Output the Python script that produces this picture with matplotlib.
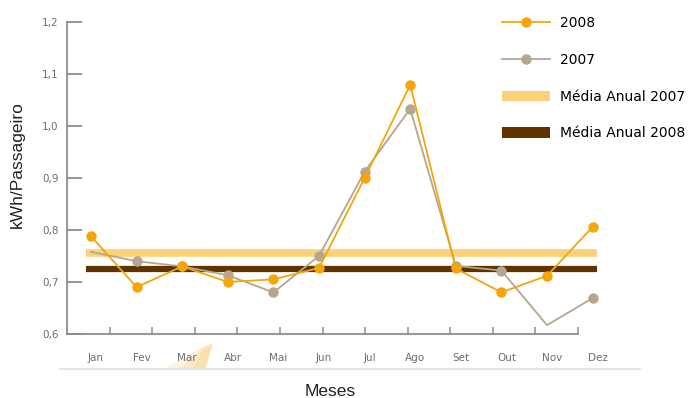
import matplotlib
matplotlib.use("Agg")
import matplotlib.pyplot as plt
import matplotlib.transforms as mtransforms
from matplotlib.lines import Line2D
from matplotlib.patches import Patch, Polygon
import numpy as np

# --- data -------------------------------------------------------------
months = ["Jan", "Fev", "Mar", "Abr", "Mai", "Jun",
          "Jul", "Ago", "Set", "Out", "Nov", "Dez"]
kwh_2008 = [0.788, 0.690, 0.730, 0.700, 0.705, 0.727,
            0.900, 1.079, 0.726, 0.680, 0.712, 0.806]
kwh_2007 = [0.758, 0.740, 0.730, 0.713, 0.680, 0.750,
            0.912, 1.033, 0.731, 0.722, 0.617, 0.669]
media_2007 = 0.755
media_2008 = 0.725
y_ticks = [0.6, 0.7, 0.8, 0.9, 1.0, 1.1, 1.2]
y_tick_labels = ["0,6", "0,7", "0,8", "0,9", "1,0", "1,1", "1,2"]

# --- style ------------------------------------------------------------
C_2008 = "#F5A50A"
C_2007 = "#B5A690"
C_MED07 = "#FAD27A"
C_MED08 = "#5E3300"
C_AXIS = "#8E8E8E"
C_TICK = "#6E6E6E"

W, H = 693, 398
fig = plt.figure(figsize=(W / 100, H / 100), dpi=100)

# axes placed in pixel units
ax_left, ax_right, ax_top, ax_bottom = 67, 612, 22, 334
ax = fig.add_axes([ax_left / W, 1 - ax_bottom / H,
                   (ax_right - ax_left) / W, (ax_bottom - ax_top) / H])

x = np.arange(len(months))
step_px = 45.6           # pixel distance between month points
first_px = 91            # pixel of first month point
x_lo = (ax_left - first_px) / step_px
x_hi = (ax_right - first_px) / step_px
ax.set_xlim(x_lo, x_hi)
ax.set_ylim(0.6, 1.2)

# annual averages as thick bands
ax.hlines(media_2007, x[0] - 0.1, x[-1] + 0.1, color=C_MED07, lw=5.5, zorder=1)
ax.hlines(media_2008, x[0] - 0.1, x[-1] + 0.1, color=C_MED08, lw=4.5, zorder=1)

# monthly series
ax.plot(x, kwh_2007, color=C_2007, lw=1.3, marker="o", ms=6.5,
        markevery=[1, 2, 3, 4, 5, 6, 7, 8, 9, 11], zorder=3)
ax.plot(x, kwh_2008, color=C_2008, lw=1.3, marker="o", ms=6.5, zorder=4)

# spines
for s in ["top", "right"]:
    ax.spines[s].set_visible(False)
for s in ["left", "bottom"]:
    ax.spines[s].set_color(C_AXIS)
    ax.spines[s].set_linewidth(1.3)
spine_end_px = 578
spine_hi = (spine_end_px - first_px) / step_px
ax.spines["bottom"].set_bounds(x_lo, spine_hi)

# y ticks
ax.set_yticks(y_ticks)
ax.set_yticklabels(y_tick_labels)
ax.tick_params(axis="y", direction="in", length=11, width=1.3, color=C_AXIS,
               pad=6, labelsize=7.5, labelcolor=C_TICK)

# x: tick marks split the drawn axis into 12 equal parts, labels at months
n_seg = len(months)
minor_pos = [x_lo + (k + 1) * (spine_hi - x_lo) / n_seg for k in range(n_seg)]
ax.set_xticks(minor_pos, minor=True)
ax.tick_params(axis="x", which="minor", direction="in", length=5, width=1.1,
               color=C_AXIS)
ax.set_xticks(x)
ax.set_xticklabels(months)
ax.tick_params(axis="x", which="major", length=0, pad=14, labelsize=7.5,
               labelcolor=C_TICK)
shift = mtransforms.ScaledTranslation(5 / 100, 0, fig.dpi_scale_trans)
for lbl in ax.get_xticklabels():
    lbl.set_transform(lbl.get_transform() + shift)

# faint shadow line under month labels
fig.add_artist(Line2D([60 / W, 640 / W], [1 - 369 / H, 1 - 369 / H],
                      color="#E4E4E4", lw=1.5, transform=fig.transFigure))
# pale smudge behind the "Mar" label, fading toward the lower left
for pts, a in [
    ([[163, 370], [205, 370], [213, 343], [200, 348]], 0.25),
    ([[180, 370], [205, 370], [213, 343], [202, 348]], 0.3),
    ([[193, 368], [206, 368], [212, 345], [204, 349]], 0.3),
]:
    fig.add_artist(Polygon([[px / W, 1 - py / H] for px, py in pts],
                           closed=True, facecolor="#F8D080", edgecolor="none",
                           alpha=a, transform=fig.transFigure, zorder=0))

# axis titles
fig.text(17 / W, 1 - 165 / H, "kWh/Passageiro", rotation=90, ha="center",
         va="center", fontsize=12.5, color="#222222", family="Liberation Sans")
fig.text(330 / W, 1 - 391 / H, "Meses", ha="center", va="center",
         fontsize=12.5, color="#222222", family="Liberation Sans")

# legend
handles = [
    Line2D([], [], color=C_2008, lw=1.3, marker="o", ms=6.5),
    Line2D([], [], color=C_2007, lw=1.3, marker="o", ms=6.5),
    Patch(facecolor=C_MED07, edgecolor="none"),
    Patch(facecolor=C_MED08, edgecolor="none"),
]
labels = ["2008", "2007", "Média Anual 2007", "Média Anual 2008"]
fig.legend(handles, labels, loc="upper left",
           bbox_to_anchor=(502 / W, 1 - 16 / H), frameon=False,
           fontsize=10, handlelength=3.45, handleheight=0.75,
           handletextpad=0.72, labelspacing=1.64, borderpad=0,
           borderaxespad=0)

fig.savefig("out.png", dpi=100)
